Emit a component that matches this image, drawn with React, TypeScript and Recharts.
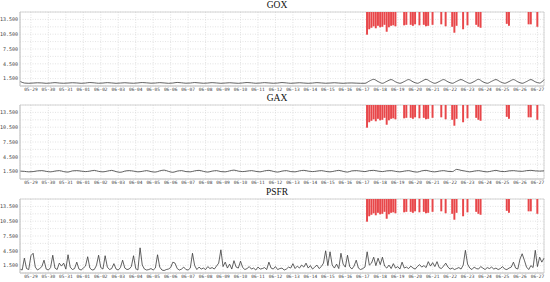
import { ComposedChart, Line, Bar, XAxis, YAxis, CartesianGrid, ReferenceArea } from 'recharts'

// time axis: hours from 05-28 09:00, 3h steps, 0..720
const dayLabels = [
  '05-29', '05-30', '05-31', '06-01', '06-02', '06-03', '06-04', '06-05', '06-06', '06-07',
  '06-08', '06-09', '06-10', '06-11', '06-12', '06-13', '06-14', '06-15', '06-16', '06-17',
  '06-18', '06-19', '06-20', '06-21', '06-22', '06-23', '06-24', '06-25', '06-26', '06-27',
]
const dayTicks = dayLabels.map((_, k) => 15 + 24 * k)
const yTicks = [0, 1.5, 3, 4.5, 6, 7.5, 9, 10.5, 12, 13.5, 15]
const yLabelled = [1.5, 4.5, 7.5, 10.5, 13.5]

// 6-hourly (09, 15, 21, 03)
const gox = [
  0.95, 0.6, 0.55, 0.6, 0.65, 0.62, 0.55, 0.6, 0.68, 0.6, 0.56, 0.6, 0.66, 0.62, 0.55, 0.6,
  0.7, 0.64, 0.56, 0.6, 0.68, 0.62, 0.55, 0.6, 0.66, 0.6, 0.56, 0.62, 0.7, 0.64, 0.57, 0.6,
  0.68, 0.62, 0.55, 0.6, 0.72, 0.65, 0.57, 0.6, 0.7, 0.63, 0.56, 0.6, 0.68, 0.62, 0.55, 0.6,
  0.66, 0.6, 0.55, 0.62, 0.7, 0.64, 0.56, 0.6, 0.68, 0.62, 0.56, 0.6, 0.7, 0.63, 0.55, 0.6,
  0.66, 0.6, 0.55, 0.6, 0.68, 0.62, 0.56, 0.6, 0.66, 0.6, 0.55, 0.6, 0.62, 0.58, 0.55, 0.55,
  1.0, 1.35, 0.9, 0.55, 0.95, 1.3, 0.85, 0.55, 0.9, 1.3, 0.85, 0.55, 0.95, 1.35, 0.9, 0.55,
  0.9, 1.3, 0.85, 0.55, 0.95, 1.3, 0.9, 0.55, 0.9, 1.35, 0.85, 0.55, 0.95, 1.3, 0.85, 0.55,
  0.9, 1.3, 0.85, 0.55, 0.9, 1.3, 0.85, 0.6, 1.3,
]
const gax = [
  1.6, 1.55, 1.45, 1.5, 1.65, 1.7, 1.55, 1.45, 1.6, 1.7, 1.5, 1.4, 1.65, 1.7, 1.6, 1.5,
  1.6, 1.75, 1.55, 1.45, 1.6, 1.75, 1.5, 1.35, 1.6, 1.7, 1.6, 1.45, 1.55, 1.7, 1.5, 1.4,
  1.65, 1.8, 1.55, 1.35, 1.6, 1.7, 1.5, 1.45, 1.65, 1.75, 1.55, 1.4, 1.6, 1.7, 1.5, 1.45,
  1.65, 1.8, 1.6, 1.5, 1.6, 1.7, 1.55, 1.45, 1.65, 1.75, 1.55, 1.4, 1.6, 1.7, 1.5, 1.45,
  1.65, 1.75, 1.6, 1.5, 1.6, 1.7, 1.55, 1.45, 1.6, 1.75, 1.55, 1.4, 1.65, 1.7, 1.6, 1.5,
  1.7, 1.75, 1.6, 1.5, 1.65, 1.7, 1.55, 1.45, 1.6, 1.7, 1.5, 1.4, 1.65, 1.75, 1.55, 1.45,
  1.6, 1.7, 1.55, 1.5, 1.95, 1.75, 1.6, 1.45, 1.6, 1.7, 1.55, 1.45, 1.6, 1.75, 1.55, 1.5,
  1.65, 1.7, 1.6, 1.55, 1.7, 1.75, 1.65, 1.6, 1.65,
]
// 3-hourly
const psfr = [
  0.8, 0.6, 3.0, 0.9, 0.7, 3.5, 4.0, 1.2, 0.6, 0.9,
  1.3, 2.6, 0.8, 0.6, 1.1, 3.6, 1.0, 0.7, 2.0, 1.4,
  2.0, 0.8, 3.7, 1.2, 0.7, 0.9, 2.2, 0.8, 0.6, 1.0,
  1.4, 3.3, 1.0, 0.6, 0.7, 1.5, 3.6, 1.1, 0.8, 3.5,
  1.2, 0.7, 0.9, 1.9, 0.8, 0.6, 1.1, 2.6, 1.0, 0.7,
  0.8, 1.3, 3.5, 0.9, 0.6, 5.1, 1.6, 0.8, 0.6, 0.7,
  0.9, 0.6, 1.0, 3.7, 1.2, 0.6, 0.5, 0.7, 0.8, 1.1,
  2.2, 2.0, 0.9, 0.6, 0.8, 1.2, 0.7, 0.6, 1.0, 4.0,
  1.5, 0.7, 1.2, 0.8, 1.0, 0.7, 1.3, 0.9, 1.1, 0.8,
  1.4, 2.0, 4.7, 1.3, 2.2, 1.0, 1.8, 0.8, 2.5, 1.2,
  1.0, 2.4, 1.1, 0.7, 0.9, 1.3, 0.8, 1.0, 0.6, 1.2,
  0.8, 0.9, 1.1, 0.7, 2.2, 1.0, 0.8, 1.3, 0.7, 0.9,
  1.0, 0.6, 0.8, 1.2, 1.0, 1.9, 0.9, 1.4, 1.0, 1.6,
  1.2, 2.0, 1.0, 1.5, 0.8, 1.2, 1.6, 0.9, 1.3, 2.0,
  4.5, 1.5, 4.3, 1.6, 1.0, 1.8, 0.9, 4.0, 1.8, 1.2,
  3.6, 1.3, 0.8, 1.4, 2.6, 1.0, 0.7, 0.9, 1.2, 4.3,
  1.6, 2.0, 3.2, 1.5, 3.0, 1.7, 3.2, 1.4, 1.0, 1.6,
  0.9, 1.9, 1.0, 1.3, 0.8, 2.2, 1.0, 1.2, 0.9, 1.4,
  1.0, 0.8, 1.3, 1.7, 1.2, 1.5, 1.1, 2.3, 1.4, 2.1,
  1.3, 2.3, 1.1, 0.9, 1.4, 2.0, 1.2, 0.8, 1.0, 0.7,
  0.9, 1.1, 0.8, 1.6, 4.6, 1.8, 1.0, 0.7, 1.2, 0.9,
  0.8, 1.3, 1.0, 0.7, 1.1, 0.9, 1.2, 0.8, 1.0, 0.7,
  0.9, 1.3, 0.8, 0.7, 1.0, 1.2, 2.2, 1.0, 0.8, 2.8,
  3.9, 2.6, 1.2, 0.7, 1.5, 1.1, 4.6, 1.3, 3.2, 2.2,
  3.0,
]
// alarm bars hanging from the top: hour and lower end
const alarmHours = [
  477, 480, 483, 486, 489, 492, 495, 498, 501, 504, 507, 510, 513, 516, 528, 531, 537, 540, 543,
  549, 555, 558, 561, 567, 579, 585, 594, 597, 600, 609, 615, 627, 630, 633, 669, 672, 699, 702, 711,
]
const alarmLows = [
  10.4, 11.5, 11.8, 12.1, 11.7, 12.2, 11.9, 12.0, 12.4, 11.0, 11.9, 12.2, 12.3, 12.1, 12.3, 12.4, 12.4, 12.2, 12.5,
  12.3, 12.4, 12.1, 12.2, 12.4, 12.5, 12.1, 12.0, 10.8, 12.2, 11.5, 12.3, 12.4, 12.0, 11.8, 12.6, 12.2, 12.5, 12.5, 12.0,
]

const rows = psfr.map((p, i) => {
  const t = i * 3
  const a = alarmHours.indexOf(t)
  return {
    t,
    gox: i % 2 === 0 ? gox[i / 2] : null,
    gax: i % 2 === 0 ? gax[i / 2] : null,
    psfr: p,
    alarm: a >= 0 ? [alarmLows[a], 15] : null,
  }
})

const xTickFont = { fontSize: 4.5, fill: '#444', fontFamily: 'DejaVu Sans Mono' }
const yTickFont = { fontSize: 5, fill: '#444', fontFamily: 'DejaVu Sans Mono' }

function Panel({ title, dataKey, top, curve }: { title: string; dataKey: string; top: number; curve: 'monotone' | 'linear' }) {
  return (
    <div style={{ position: 'absolute', left: 0, top, width: 550, height: 94 }}>
      <div style={{
        position: 'absolute', left: 2, top: 0, width: 550, textAlign: 'center',
        fontFamily: '"Liberation Serif", serif', fontSize: 9.5, lineHeight: '11px', color: '#111',
      }}>
        {title}
      </div>
      <ComposedChart width={550} height={94} data={rows} margin={{ top: 12, right: 6, bottom: 0, left: 0 }}>
        <CartesianGrid stroke="#d0d0d0" strokeDasharray="1 1.5" strokeWidth={0.6} />
        <XAxis
          dataKey="t" type="number" domain={[0, 720]} ticks={dayTicks}
          tickFormatter={(v: number) => dayLabels[(v - 15) / 24] ?? ''}
          tick={xTickFont} tickLine={false} tickSize={1} axisLine={{ stroke: '#ccc' }}
          height={8} tickMargin={0.5} interval={0}
        />
        <YAxis
          domain={[0, 15]} ticks={yTicks} width={20} interval={0}
          tickFormatter={(v: number) => (yLabelled.includes(v) ? v.toFixed(3) : '')}
          tick={yTickFont} tickLine={false} tickSize={1} axisLine={{ stroke: '#ccc' }} tickMargin={1}
        />
        <ReferenceArea x1={0} x2={720} y1={0} y2={15} fill="none" stroke="#ccc" strokeWidth={0.8} />
        <Bar dataKey="alarm" fill="#e8474a" barSize={2.2} isAnimationActive={false} />
        <Line
          dataKey={dataKey} type={curve} stroke="#3a3a3a" strokeWidth={0.8} dot={false}
          connectNulls isAnimationActive={false}
        />
      </ComposedChart>
    </div>
  )
}

export default function App() {
  return (
    <div style={{ position: 'absolute', left: 0, top: 0, width: 550, height: 282, background: '#fff' }}>
      <Panel title="GOX" dataKey="gox" top={0} curve="monotone" />
      <Panel title="GAX" dataKey="gax" top={93} curve="monotone" />
      <Panel title="PSFR" dataKey="psfr" top={187} curve="linear" />
    </div>
  )
}
